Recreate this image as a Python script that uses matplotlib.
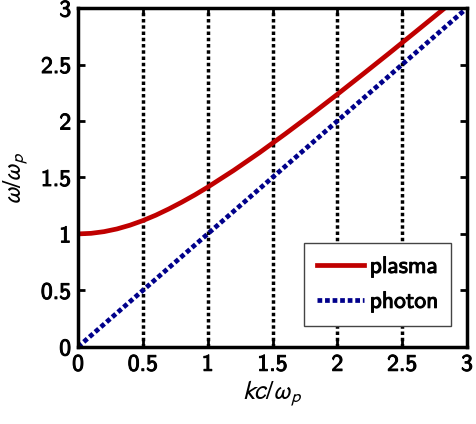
import matplotlib
matplotlib.use("Agg")
import matplotlib.pyplot as plt
import matplotlib.patheffects as pe

# values
k_plasma = [0.0, 0.1, 0.2, 0.3, 0.4, 0.5, 0.6, 0.7, 0.8, 0.9, 1.0,
            1.2, 1.4, 1.6, 1.8, 2.0, 2.2, 2.4, 2.6, 2.8, 2.85]
w_plasma = [1.00, 1.005, 1.02, 1.044, 1.077, 1.118, 1.166, 1.221, 1.281, 1.345, 1.414,
            1.562, 1.720, 1.887, 2.059, 2.236, 2.417, 2.600, 2.786, 2.973, 3.02]
k_photon = [0.0, 3.0]
w_photon = [0.0, 3.0]
grid_x = [0.5, 1.0, 1.5, 2.0, 2.5]
ticks = [0, 0.5, 1, 1.5, 2, 2.5, 3]
tick_labels = ["0", "0.5", "1", "1.5", "2", "2.5", "3"]

plt.rcParams['font.family'] = ['cmss10', 'DejaVu Sans']
plt.rcParams['mathtext.fontset'] = 'stixsans'

bold = [pe.withStroke(linewidth=0.7, foreground='black')]

fig = plt.figure(figsize=(4.76, 4.24), dpi=100)
ax = fig.add_axes([0.164, 0.182, 0.817, 0.799])

for x in grid_x:
    ax.plot([x, x], [0, 3], color='black', linestyle=(0, (1, 0.8)), linewidth=2.5)

ax.plot(k_plasma, w_plasma, color='#c00000', linewidth=3.4, label='plasma')
ax.plot(k_photon, w_photon, color='#00008b', linestyle=(0, (1, 0.6)), linewidth=3.4, label='photon')

ax.set_xlim(0, 3)
ax.set_ylim(0, 3)
ax.set_xticks(ticks)
ax.set_xticklabels(tick_labels)
ax.set_yticks(ticks)
ax.set_yticklabels(tick_labels)
ax.tick_params(direction='in', length=5, width=2, labelsize=17, top=True, right=True, pad=5)
for lbl in ax.get_xticklabels() + ax.get_yticklabels():
    lbl.set_path_effects(bold)
for s in ax.spines.values():
    s.set_linewidth(2.5)

ax.set_xlabel(r'$kc/\omega_p$', fontsize=19, labelpad=2)
ax.set_ylabel(r'$\omega/\omega_p$', fontsize=19, labelpad=8)

leg = ax.legend(loc='lower right', bbox_to_anchor=(0.959, 0.062), borderaxespad=0,
                fontsize=17, handlelength=2.0, handletextpad=0.25, borderpad=0.55,
                labelspacing=0.55, fancybox=False, framealpha=1)
leg.get_frame().set_edgecolor('#444444')
leg.get_frame().set_linewidth(1)
for t in leg.get_texts():
    t.set_path_effects(bold)

fig.savefig('out.png', dpi=100)
